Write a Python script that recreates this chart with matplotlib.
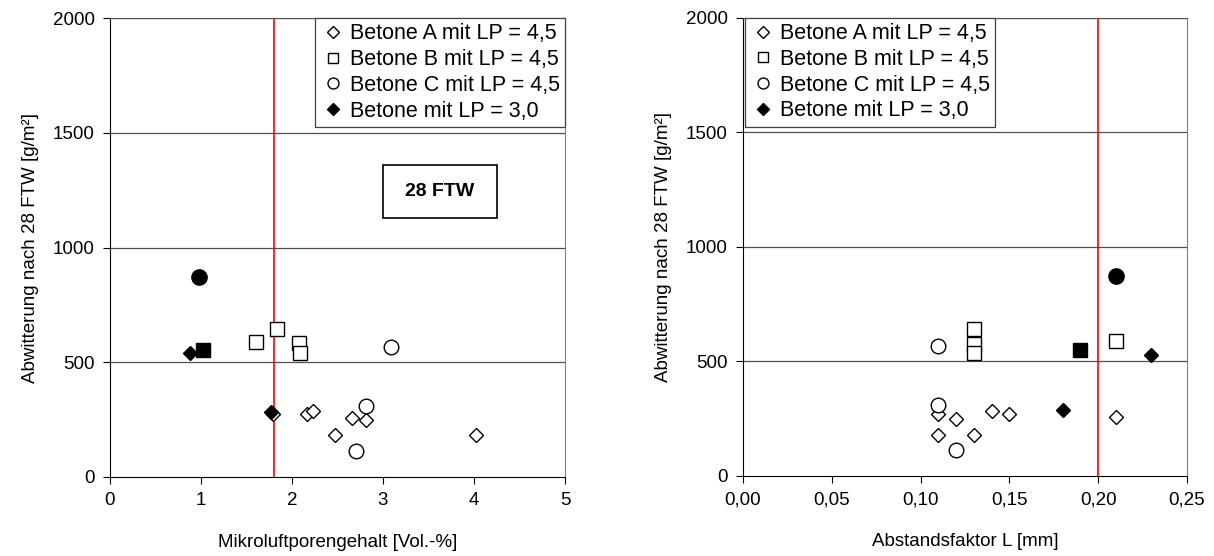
import numpy as np
import matplotlib.pyplot as plt
from matplotlib.ticker import FuncFormatter
from matplotlib.patches import Rectangle

plt.rcParams['font.family'] = ['Liberation Sans', 'DejaVu Sans']

# Betone A mit LP = 4,5 (open diamonds)
a_lp = [2.17, 2.23, 2.47, 2.66, 2.81, 4.02, 1.79]
a_l = [0.11, 0.12, 0.11, 0.13, 0.14, 0.15, 0.21]
a_y_lp = [273, 288, 182, 258, 248, 182, 275]
a_y_l = [269, 250, 179, 179, 283, 269, 257]

# Betone B mit LP = 4,5 (open squares)
b_lp = [1.60, 1.84, 2.08, 2.09]
b_y_lp = [590, 646, 585, 541]
b_l = [0.13, 0.13, 0.13, 0.21]
b_y_l = [643, 577, 537, 588]

# Betone C mit LP = 4,5 (open circles)
c_lp = [3.09, 2.81, 2.70]
c_y_lp = [568, 309, 115]
c_l = [0.11, 0.11, 0.12]
c_y_l = [566, 308, 113]

# Betone mit LP = 3,0 (filled markers)
d_lp = [0.88, 1.77]
d_y_lp = [540, 285]
d_l = [0.23, 0.18]
d_y_l = [527, 286]
sq_lp, sq_y_lp = [1.02], [553]
sq_l, sq_y_l = [0.19], [549]
ci_lp, ci_y_lp = [0.98], [873]
ci_l, ci_y_l = [0.21], [873]

limit_lp = 1.8
limit_l = 0.20

fig = plt.figure(figsize=(12.14, 5.56), dpi=100)
ax1 = fig.add_axes([0.0906, 0.1421, 0.3748, 0.8255])
ax2 = fig.add_axes([0.612, 0.1439, 0.3657, 0.824])

labels = ["Betone A mit LP = 4,5", "Betone B mit LP = 4,5",
          "Betone C mit LP = 4,5", "Betone mit LP = 3,0"]


def draw(ax, xa, ya, xb, yb, xc, yc, xd, yd, xs, ys, xo, yo, xlim, xticks, limit):
    for y in [500, 1000, 1500, 2000]:
        ax.axhline(y, color='#505050', lw=0.9, zorder=1)
    ax.axvline(limit, color='red', lw=1.2, zorder=2)
    ha, = ax.plot(xa, ya, 'D', ms=7.5, mfc='white', mec='black', mew=1.0, ls='none', zorder=3)
    hb, = ax.plot(xb, yb, 's', ms=10, mfc='white', mec='black', mew=1.0, ls='none', zorder=3)
    hc, = ax.plot(xc, yc, 'o', ms=10.5, mfc='white', mec='black', mew=1.0, ls='none', zorder=3)
    hd, = ax.plot(xd, yd, 'D', ms=7.5, mfc='black', mec='black', mew=1.0, ls='none', zorder=4)
    ax.plot(xs, ys, 's', ms=10, mfc='black', mec='black', ls='none', zorder=4)
    ax.plot(xo, yo, 'o', ms=11, mfc='black', mec='black', ls='none', zorder=4)
    ax.set_xlim(*xlim)
    ax.set_ylim(0, 2000)
    ax.set_xticks(xticks)
    ax.set_yticks([0, 500, 1000, 1500, 2000])
    ax.tick_params(direction='out', length=5, labelsize=13.5, color='black', pad=6)
    ax.spines['left'].set_color('black')
    ax.spines['bottom'].set_color('black')
    ax.spines['top'].set_color('#505050')
    ax.spines['right'].set_color('#808080')
    ax.set_ylabel("Abwitterung nach 28 FTW [g/m²]", fontsize=13.5, labelpad=10)
    return [ha, hb, hc, hd]


leg_kw = dict(fontsize=15.5, fancybox=False, framealpha=1, edgecolor='#404040',
              markerscale=0.75, handlelength=1.2, handletextpad=0.15, borderpad=0.25,
              labelspacing=0.22, borderaxespad=0)

h = draw(ax1, a_lp, a_y_lp, b_lp, b_y_lp, c_lp, c_y_lp, d_lp, d_y_lp,
         sq_lp, sq_y_lp, ci_lp, ci_y_lp, (0, 5), [0, 1, 2, 3, 4, 5], limit_lp)
ax1.set_xlabel("Mikroluftporengehalt [Vol.-%]", fontsize=13.5, labelpad=18)
leg1 = ax1.legend(h, labels, loc='upper right', bbox_to_anchor=(1.0, 1.0), **leg_kw)
leg1.get_frame().set_linewidth(0.9)

ax1.add_patch(Rectangle((0.60, 0.564), 0.251, 0.116, transform=ax1.transAxes,
                        fill=False, ec='black', lw=1.2, zorder=5))
ax1.text(0.7255, 0.622, "28 FTW", transform=ax1.transAxes, ha='center', va='center',
         fontsize=14, fontweight='bold', zorder=6)

h = draw(ax2, a_l, a_y_l, b_l, b_y_l, c_l, c_y_l, d_l, d_y_l,
         sq_l, sq_y_l, ci_l, ci_y_l, (0, 0.25), [0, 0.05, 0.10, 0.15, 0.20, 0.25], limit_l)
ax2.xaxis.set_major_formatter(FuncFormatter(lambda v, p: f"{v:.2f}".replace('.', ',')))
ax2.set_xlabel("Abstandsfaktor L [mm]", fontsize=13.5, labelpad=18)
leg2 = ax2.legend(h, labels, loc='upper left', bbox_to_anchor=(0.005, 1.0), **leg_kw)
leg2.get_frame().set_linewidth(0.9)

fig.savefig('out.png', dpi=100)
